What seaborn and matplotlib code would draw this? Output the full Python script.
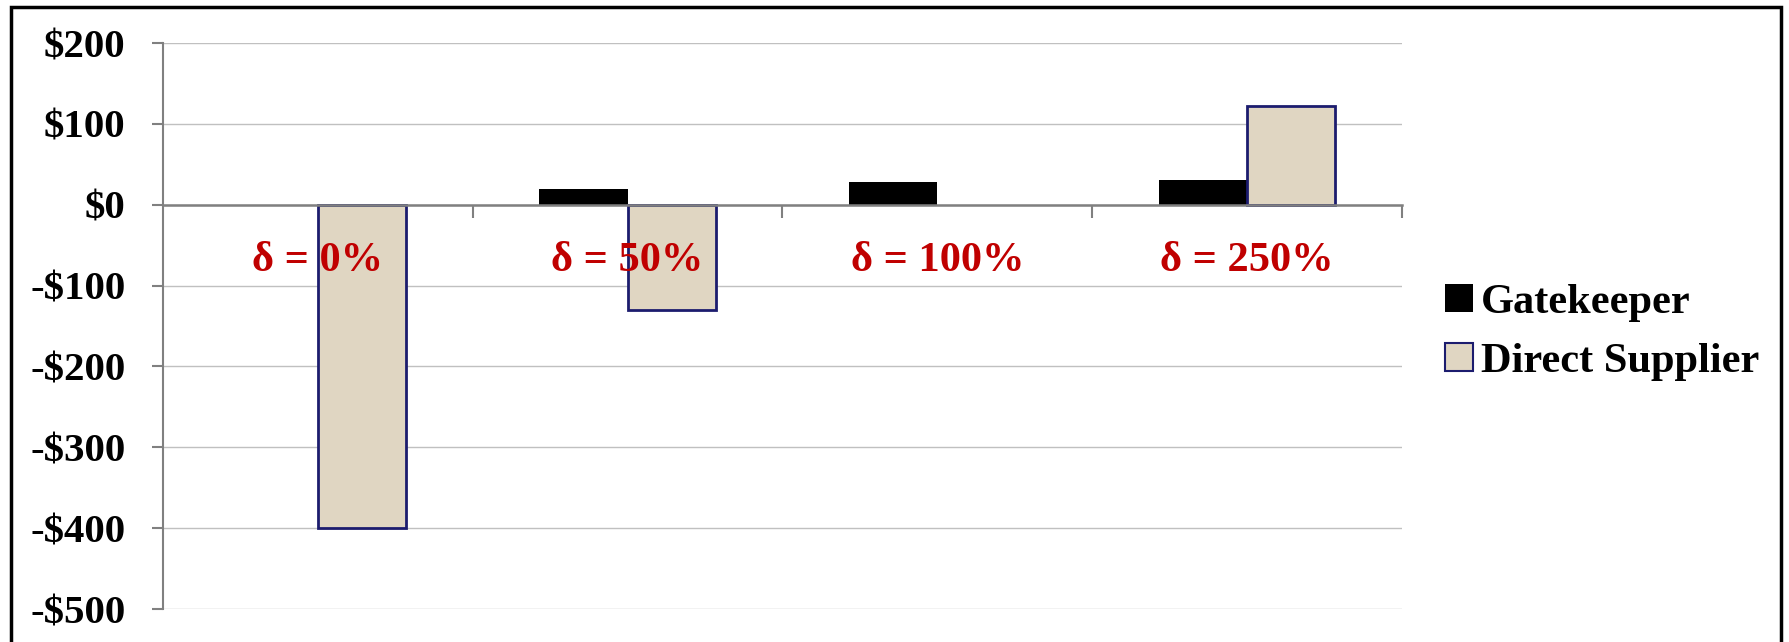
import matplotlib
matplotlib.use("Agg")
import matplotlib.pyplot as plt
import seaborn as sns
import pandas as pd
from matplotlib.patches import Rectangle, Patch

# ---- data ----
categories = ["δ = 0%", "δ = 50%", "δ = 100%", "δ = 250%"]
gatekeeper = [0, 20, 28, 30]
direct_supplier = [-400, -130, 0, 122]
series_names = ["Gatekeeper", "Direct Supplier"]
y_ticks = [200, 100, 0, -100, -200, -300, -400, -500]
y_tick_labels = ["$200", "$100", "$0", "-$100", "-$200", "-$300", "-$400", "-$500"]

df = pd.DataFrame({
    "category": categories * 2,
    "series": [series_names[0]] * 4 + [series_names[1]] * 4,
    "value": gatekeeper + direct_supplier,
})

sns.set_theme(style="white")
plt.rcParams["font.family"] = ["Liberation Serif", "DejaVu Serif"]
plt.rcParams["font.weight"] = "bold"
plt.rcParams["text.color"] = "black"
plt.rcParams["ytick.labelcolor"] = "black"

W, H = 1790, 642
fig = plt.figure(figsize=(W / 100, H / 100), dpi=100)
ax = fig.add_axes([163 / W, 1 - 609 / H, (1402 - 163) / W, (609 - 43) / H])

beige = "#e0d6c2"
navy = "#1c1c6e"
sns.barplot(data=df, x="category", y="value", hue="series", order=categories,
            hue_order=series_names, palette={"Gatekeeper": "black", "Direct Supplier": beige},
            width=0.57, gap=0, saturation=1, ax=ax, legend=False, zorder=2)

for p in ax.containers[0]:
    p.set_edgecolor("black")
    p.set_linewidth(0)
for p, v in zip(ax.containers[1], direct_supplier):
    p.set_edgecolor(navy)
    p.set_linewidth(2.0 if v != 0 else 0)

ax.set_xlim(-0.5, 3.5)
ax.set_ylim(-500, 200)
ax.set_xlabel("")
ax.set_ylabel("")

ax.set_yticks(y_ticks)
ax.set_yticklabels(y_tick_labels, fontsize=29.5, fontweight="bold", color="black",
                   family=["Liberation Serif", "DejaVu Serif"])
ax.tick_params(axis="y", direction="out", length=8, width=1.5, color="#808080",
               pad=19, left=True, labelcolor="black")
ax.set_xticks([0.5, 1.5, 2.5, 3.5])
ax.set_xticklabels([])
ax.tick_params(axis="x", direction="out", length=9, width=1.5, color="#808080", bottom=True)

ax.yaxis.grid(True, color="#c0c0c0", linewidth=1)
ax.xaxis.grid(False)
ax.set_axisbelow(True)

for s in ["top", "right"]:
    ax.spines[s].set_visible(False)
ax.spines["left"].set_color("#808080")
ax.spines["left"].set_linewidth(1.5)
ax.spines["bottom"].set_position(("data", 0))
ax.spines["bottom"].set_color("#808080")
ax.spines["bottom"].set_linewidth(1.8)
ax.spines["bottom"].set_zorder(3)

for i, lab in enumerate(categories):
    ax.text(i, -70, lab, ha="center", va="center", fontsize=30.5, fontweight="bold",
            color="#c00000", zorder=5, family=["Liberation Serif", "DejaVu Serif"])

handles = [Patch(facecolor="black", edgecolor="black", linewidth=0),
           Patch(facecolor=beige, edgecolor=navy, linewidth=1.5)]
leg = fig.legend(handles, series_names, loc="upper left",
                 bbox_to_anchor=(1445 / W, 1 - 284 / H), frameon=False,
                 prop={"family": "Liberation Serif", "weight": "bold", "size": 30.5},
                 handlelength=0.65, handleheight=0.65, handletextpad=0.2,
                 labelspacing=0.5, borderaxespad=0, borderpad=0)
for t in leg.get_texts():
    t.set_color("black")

# outer frame
fig.patches.append(Rectangle((11 / W, -0.02), (1781 - 11) / W, 1.02 - 7 / H,
                             transform=fig.transFigure, fill=False,
                             edgecolor="black", linewidth=2.5, zorder=10))

fig.savefig("out.png", dpi=100)
